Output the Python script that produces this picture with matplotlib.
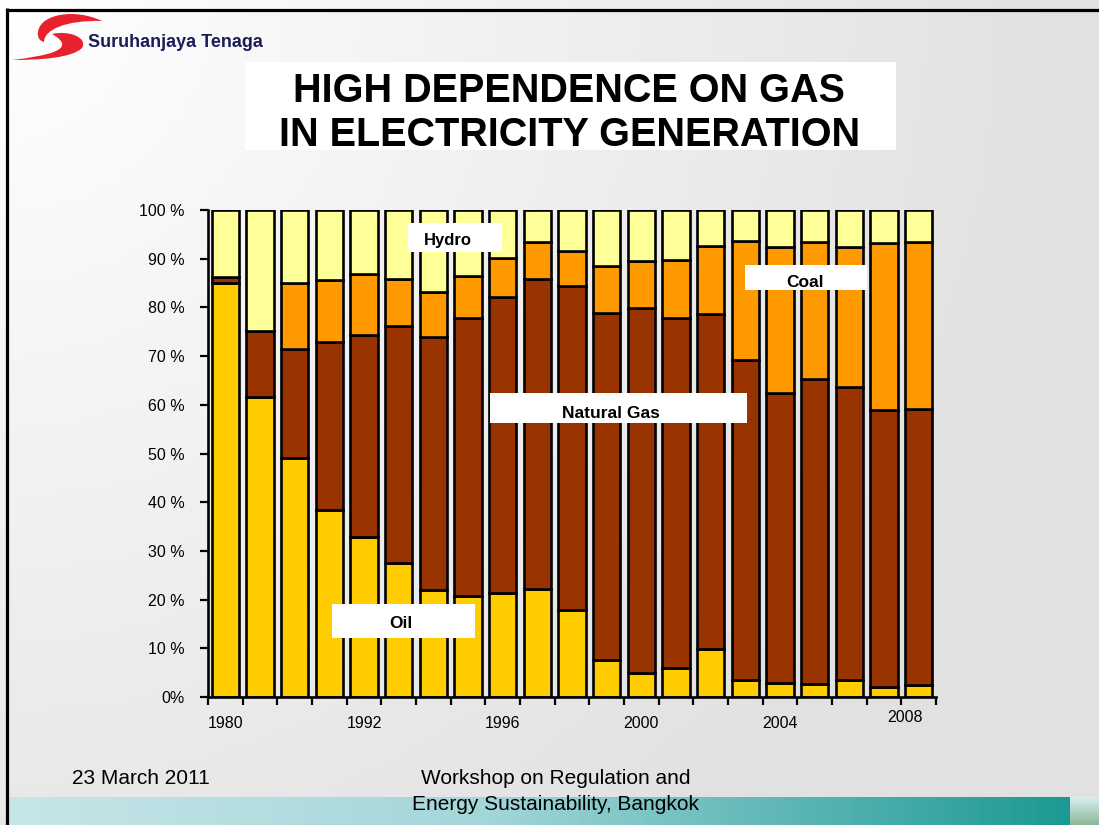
import numpy as np
import matplotlib
matplotlib.use("Agg")
import matplotlib.pyplot as plt
from matplotlib.patches import Rectangle, PathPatch
from matplotlib.path import Path
from matplotlib.transforms import blended_transform_factory

plt.rcParams['font.family'] = ['Liberation Sans', 'DejaVu Sans']

# ---------------- data (share of generation, %) ----------------
years = ["1980", "1985", "1990", "1991", "1992", "1993", "1994", "1995", "1996",
         "1997", "1998", "1999", "2000", "2001", "2002", "2003", "2004", "2005",
         "2006", "2007", "2008"]
oil = [85.0, 61.7, 49.1, 38.5, 32.9, 27.5, 22.0, 20.7, 21.4, 22.2, 17.9,
       7.6, 4.9, 5.9, 9.9, 3.5, 2.8, 2.7, 3.5, 2.1, 2.5]
natural_gas = [1.2, 13.5, 22.4, 34.4, 41.4, 48.7, 51.9, 57.1, 60.7, 63.7, 66.5,
               71.3, 74.9, 71.9, 68.7, 65.6, 59.6, 62.5, 60.1, 56.8, 56.6]
coal = [0.0, 0.0, 13.5, 12.8, 12.5, 9.7, 9.3, 8.6, 8.0, 7.5, 7.2,
        9.5, 9.8, 12.0, 14.1, 24.5, 30.1, 28.2, 28.9, 34.3, 34.3]
hydro = [13.8, 24.8, 15.0, 14.3, 13.2, 14.1, 16.8, 13.6, 9.9, 6.6, 8.4,
         11.6, 10.4, 10.2, 7.3, 6.4, 7.5, 6.6, 7.5, 6.8, 6.6]
labelled_years = ["1980", "1992", "1996", "2000", "2004"]
y_ticks = [0, 10, 20, 30, 40, 50, 60, 70, 80, 90, 100]
y_ticklabels = ["0%", "10 %", "20 %", "30 %", "40 %", "50 %", "60 %",
                "70 %", "80 %", "90 %", "100 %"]

W, H = 1099, 825
fig = plt.figure(figsize=(W / 100, H / 100), dpi=100)

# ---------------- slide background ----------------
bg = fig.add_axes([0, 0, 1, 1], zorder=0)
bg.set_xlim(0, W)
bg.set_ylim(H, 0)
bg.axis('off')
xx, yy = np.meshgrid(np.linspace(0, W, 220), np.linspace(0, H, 165))
d = np.clip(np.sqrt(xx ** 2 + yy ** 2) / 1050.0, 0, 1)
v = 1.0 - 0.115 * d
img = np.dstack([v, v, v])
bg.imshow(img, extent=(0, W, H, 0), aspect='auto', zorder=0)

# frame lines
bg.plot([6, W], [9.5, 9.5], color='black', lw=2.3, solid_capstyle='butt', zorder=2)
bg.plot([6.5, 6.5], [8, H], color='black', lw=2.3, solid_capstyle='butt', zorder=2)

# footer teal bar
fx = np.linspace(0, 1, 300)
c_left = np.array([0.78, 0.90, 0.91])
c_mid = np.array([0.64, 0.84, 0.85])
c_right = np.array([0.11, 0.60, 0.58])
cols = np.where(fx[:, None] < 0.45,
                c_left + (c_mid - c_left) * (fx[:, None] / 0.45),
                c_mid + (c_right - c_mid) * ((fx[:, None] - 0.45) / 0.55))
bar_img = np.repeat(cols[None, :, :], 4, axis=0)
bg.imshow(bar_img, extent=(8, 1070, 825, 797), aspect='auto', zorder=1)
py = np.linspace(0, 1, 20)
pic = np.array([[0.85, 0.93, 0.95]]) * (1 - py[:, None]) + np.array([[0.55, 0.72, 0.60]]) * py[:, None]
bg.imshow(np.repeat(pic[:, None, :], 4, axis=1), extent=(1070, 1099, 825, 797), aspect='auto', zorder=1)

# logo
upper = Path([(102, 21), (75, 8), (40, 14), (38, 32),
              (37, 38), (40, 41), (44, 42),
              (44, 30), (65, 20), (102, 21)],
             [Path.MOVETO, Path.CURVE4, Path.CURVE4, Path.CURVE4,
              Path.CURVE4, Path.CURVE4, Path.CURVE4,
              Path.CURVE4, Path.CURVE4, Path.CURVE4])
lower = Path([(52, 34), (70, 30), (88, 38), (82, 48),
              (72, 58), (40, 60), (12, 60),
              (45, 56), (80, 50), (52, 34)],
             [Path.MOVETO, Path.CURVE4, Path.CURVE4, Path.CURVE4,
              Path.CURVE4, Path.CURVE4, Path.CURVE4,
              Path.CURVE4, Path.CURVE4, Path.CURVE4])
bg.add_patch(PathPatch(upper, facecolor='#e8212e', edgecolor='none', zorder=3))
bg.add_patch(PathPatch(lower, facecolor='#e8212e', edgecolor='none', zorder=3))
bg.text(88, 47, "Suruhanjaya Tenaga", fontsize=13, fontweight='bold',
        color='#1c1c5a', ha='left', va='baseline', zorder=3)

# title
bg.add_patch(Rectangle((245, 62), 651, 88, facecolor='white', edgecolor='none', zorder=2))
bg.text(569, 102, "HIGH DEPENDENCE ON GAS", fontsize=28.5, fontweight='bold',
        ha='center', va='baseline', zorder=3)
bg.text(570, 146, "IN ELECTRICITY GENERATION", fontsize=28.5, fontweight='bold',
        ha='center', va='baseline', zorder=3)

# footer texts
bg.text(72, 778, "23 March 2011", fontsize=15, ha='left', va='center', zorder=3)
bg.text(556, 778, "Workshop on Regulation and", fontsize=15, ha='center', va='center', zorder=3)
bg.text(556, 805, "Energy Sustainability, Bangkok", fontsize=15, ha='center', va='center', zorder=3)

# ---------------- chart ----------------
ax = fig.add_axes([208 / W, 1 - 697 / H, (936 - 208) / W, (697 - 210) / H], zorder=1)
ax.patch.set_alpha(0)
x = np.arange(len(years))
bw = 0.78
ekw = dict(edgecolor='black', linewidth=1.9, width=bw, zorder=2)
ax.bar(x, oil, color='#ffcc00', **ekw)
b1 = np.array(oil)
ax.bar(x, natural_gas, bottom=b1, color='#993300', **ekw)
b2 = b1 + np.array(natural_gas)
ax.bar(x, coal, bottom=b2, color='#ff9900', **ekw)
b3 = b2 + np.array(coal)
ax.bar(x, hydro, bottom=b3, color='#ffff99', **ekw)

ax.set_xlim(-0.5, len(years) - 0.5)
ax.set_ylim(0, 100)
for s in ['top', 'right']:
    ax.spines[s].set_visible(False)
for s in ['left', 'bottom']:
    ax.spines[s].set_linewidth(1.9)
    ax.spines[s].set_zorder(3)

ax.set_yticks(y_ticks)
ax.set_yticklabels(y_ticklabels, fontsize=11.5)
ax.tick_params(axis='y', direction='out', length=6, width=1.6, pad=11)

major_pos = [years.index(y) for y in labelled_years]
ax.set_xticks(major_pos)
ax.set_xticklabels(labelled_years, fontsize=11.5)
ax.set_xticks(np.arange(len(years) + 1) - 0.5, minor=True)
ax.tick_params(axis='x', which='major', length=0, pad=14)
ax.tick_params(axis='x', which='minor', direction='out', length=6, width=1.6)
tr = blended_transform_factory(ax.transData, ax.transAxes)
ax.text(len(years) - 1.4, -20 / 487, "2008", transform=tr, fontsize=11.5,
        ha='center', va='center')

# ---------------- series labels ----------------
fg = fig.add_axes([0, 0, 1, 1], zorder=2)
fg.set_xlim(0, W)
fg.set_ylim(H, 0)
fg.axis('off')
fg.patch.set_alpha(0)
boxes = [("Hydro", 408, 223, 94, 29, 448, 245, 12),
         ("Natural Gas", 490, 393, 257, 30, 611, 418, 12.5),
         ("Coal", 745, 265, 122, 25, 805, 287, 12.5),
         ("Oil", 332, 604, 143, 34, 401, 628, 12.5)]
for name, bx, by, bwid, bh, tx, ty, fs in boxes:
    fg.add_patch(Rectangle((bx, by), bwid, bh, facecolor='white', edgecolor='none'))
    fg.text(tx, ty, name, fontsize=fs, fontweight='bold', ha='center', va='baseline')

fig.savefig("out.png", dpi=100)
